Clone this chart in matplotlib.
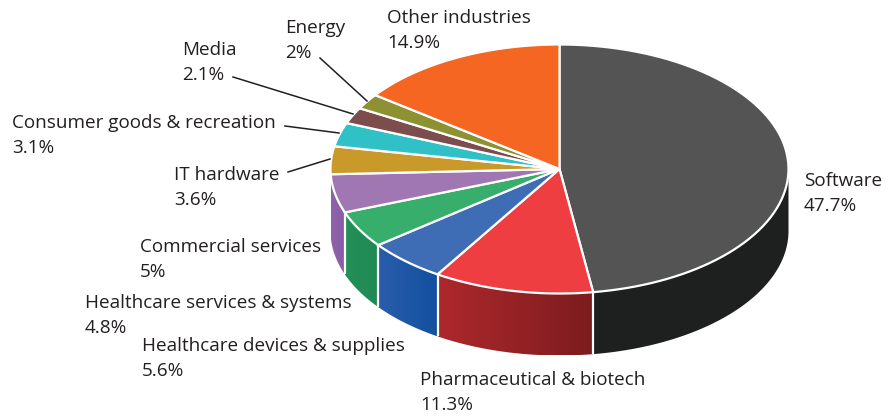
import numpy as np
import matplotlib
matplotlib.use('Agg')
import matplotlib.pyplot as plt
from matplotlib.patches import Polygon
from matplotlib.colors import LinearSegmentedColormap

# clockwise from 12 o'clock
industries = ['Software', 'Pharmaceutical & biotech', 'Healthcare devices & supplies',
              'Healthcare services & systems', 'Commercial services', 'IT hardware',
              'Consumer goods & recreation', 'Media', 'Energy', 'Other industries']
shares = [47.7, 11.3, 5.6, 4.8, 5, 3.6, 3.1, 2.1, 2, 14.9]

top_colors = ['#545454', '#EE3E42', '#3E6DB5', '#37AE6B', '#A077B2',
              '#C99A2A', '#30C1C6', '#7D4D4D', '#8E9132', '#F46621']
# only the first five slices reach the front wall, (left colour, right colour)
side_colors = [('#1E201F', '#1E201F'), ('#AD282C', '#7C1C1E'), ('#2A5DAB', '#12509F'),
               ('#239058', '#208A54'), ('#8F62AA', '#8A5CA6')]

# left edge and first baseline of each label, in pixels
label_pos = [(804, 186), (420, 385), (142, 351), (85, 308), (140, 252),
             (174, 180), (12, 128), (182, 55), (285, 33), (387, 23)]
leaders = {'IT hardware': [(288, 172), (330, 159)],
           'Consumer goods & recreation': [(285, 126), (339, 133)],
           'Media': [(233, 77), (353, 114)],
           'Energy': [(320, 58), (367, 101)]}

cx, cy = 559.5, 169
rx, ry = 229, 124.5
depth = 62

plt.rcParams['font.family'] = ['Open Sans', 'DejaVu Sans']

fig = plt.figure(figsize=(8.89, 4.19), dpi=100)
ax = fig.add_axes([0, 0, 1, 1])
ax.axis('off')


def rim(a0, a1, n=80):
    t = np.radians(np.linspace(a0, a1, n))
    return cx + rx * np.sin(t), cy - ry * np.cos(t)


edges = np.cumsum([0] + shares) / sum(shares) * 360

# side wall, only the front half of the disc shows
for i in range(len(side_colors)):
    a0, a1 = max(edges[i], 90), min(edges[i + 1], 270)
    x, y = rim(a0, a1)
    pts = np.r_[np.c_[x, y], np.c_[x, y + depth][::-1]]
    poly = Polygon(pts, closed=True, fc='none', ec='none')
    ax.add_patch(poly)
    cmap = LinearSegmentedColormap.from_list('side', side_colors[i])
    im = ax.imshow(np.linspace(0, 1, 64)[None, :], cmap=cmap, aspect='auto',
                   extent=(x.min(), x.max(), y.max() + depth, y.min()), zorder=1)
    im.set_clip_path(poly)
    if i > 0:
        ax.plot([x[0], x[0]], [y[0], y[0] + depth], color='white', lw=1.6, zorder=2,
                solid_capstyle='butt')

# top face
for i in range(len(shares)):
    x, y = rim(edges[i], edges[i + 1])
    pts = np.r_[[[cx, cy]], np.c_[x, y]]
    ax.add_patch(Polygon(pts, closed=True, fc=top_colors[i], ec='white', lw=1.6,
                         joinstyle='miter', zorder=3))

for name, pts in leaders.items():
    ax.plot(*zip(*pts), color='#231F20', lw=1.1, zorder=4)

for name, val, (lx, ly) in zip(industries, shares, label_pos):
    ax.text(lx, ly, name, fontsize=13.6, color='#231F20', va='baseline', ha='left')
    ax.text(lx, ly + 25, f'{val:g}%', fontsize=13.6, color='#231F20', va='baseline', ha='left')

ax.set_xlim(0, 889)
ax.set_ylim(419, 0)
fig.savefig('out.png', dpi=100, facecolor='white')
